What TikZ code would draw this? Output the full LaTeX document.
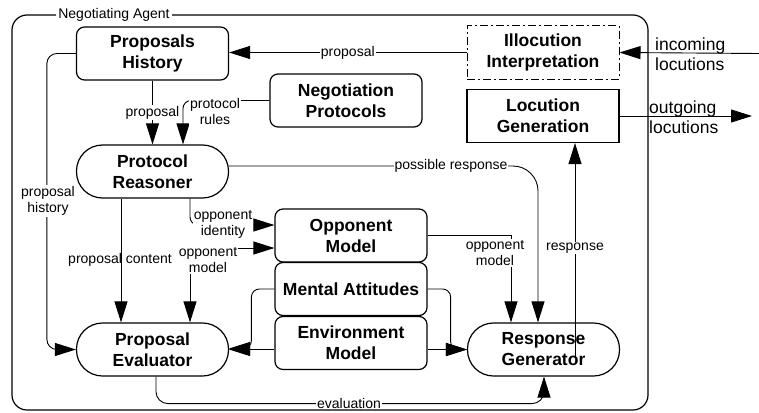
\documentclass[tikz,border=0pt]{standalone}
\usepackage{fontspec}
\setmainfont{Liberation Sans}
\usetikzlibrary{arrows.meta,calc}
\newcommand\nodefnt{\fontsize{17.5}{21}\selectfont\bfseries}
\newcommand\lblfnt{\fontsize{14}{16}\selectfont}
\newcommand\bigfnt{\fontsize{17.5}{20}\selectfont}
\tikzset{
  box/.style={draw, line width=1.2pt, rounded corners=8pt, minimum width=152pt, minimum height=53pt, align=center, font=\nodefnt, inner sep=0pt},
  stad/.style={box, rounded corners=26pt},
  sharpbox/.style={box, rounded corners=0pt, sharp corners},
  conn/.style={line width=0.9pt},
  arr/.style={-{Triangle[length=21pt 0 0,width=13pt 0 0]}},
  biarr/.style={{Triangle[length=21pt 0 0,width=13pt 0 0]}-{Triangle[length=21pt 0 0,width=13pt 0 0]}},
  lbl/.style={fill=white, font=\lblfnt, inner sep=1pt, align=center},
  nlbl/.style={font=\lblfnt, inner sep=1pt, align=center},
  outlbl/.style={font=\bigfnt, inner sep=0pt, align=left, anchor=west}
}
\begin{document}
\begin{tikzpicture}[x=1pt,y=-1pt]
\useasboundingbox (0,0) rectangle (759,412);
% frame
\draw[line width=1.2pt, rounded corners=15pt] (12,15) rectangle (648,410);
\node[lbl, inner sep=2pt] (agent) at (114,15) {Negotiating Agent};
% nodes
\node[box] (PH) at (152.5,53.5) {Proposals\\History};
\node[box] (NP) at (346,100.5) {Negotiation\\Protocols};
\node[stad] (PR) at (152.5,171.5) {Protocol\\Reasoner};
\node[sharpbox, line width=1pt, dash pattern=on 8pt off 3pt on 2pt off 3pt] (II) at (543,52.5) {Illocution\\Interpretation};
\node[sharpbox] (LG) at (543,116) {Locution\\Generation};
\node[box] (OM) at (351,235.5) {Opponent\\Model};
\node[box] (MA) at (351,289) {Mental Attitudes};
\node[box] (EM) at (351,343) {Environment\\Model};
\node[stad] (PE) at (152.5,349.5) {Proposal\\Evaluator};
\node[stad] (RG) at (543.5,349.5) {Response\\Generator};
% external
\coordinate (inc) at (759,53.5);
\coordinate (outg) at (752,116);
\draw[conn,arr] (inc) -- (II.east);
\node[outlbl] (inclbl) at (655,54) {incoming\\locutions};
\draw[conn,arr] (LG.east) -- (outg);
\node[outlbl] (outlbl) at (649,117) {outgoing\\locutions};
% connectors
\draw[conn,arr] (II.west) -- node[lbl]{proposal} (II.west -| PH.east);
\draw[conn,arr] (PH.south) -- node[lbl]{proposal} (PR.north);
\draw[conn,arr,rounded corners=8pt] (NP.west) -| ($(PR.north)+(30.5,0)$);
\node[lbl] (prl) at (215,111) {protocol\\rules};
\draw[conn,arr,rounded corners=25pt] ($(PR.east)+(0,-5.5)$) -| ($(RG.north)+(-5.5,0)$);
\node[lbl] (psr) at (451,166) {possible response};
\coordinate (rs) at (575,357);
\draw[conn,arr] (rs) -- (rs |- LG.south);
\node[lbl] (rsl) at (575,248) {response};
\draw[conn,arr,rounded corners=10pt] (PH.west) -- ++(-29,0) |- (PE.west);
\node[lbl] (phl) at (48,201) {proposal\\history};
\draw[conn,arr] ($(PR.south)+(-31.5,0)$) -- ($(PE.north)+(-31.5,0)$);
\node[nlbl] (pcl) at (120,260) {proposal content};
\draw[conn,arr,rounded corners=8pt] ($(PR.south)+(37.5,0)$) |- ($(OM.west)+(0,-10.5)$);
\node[lbl] (oil) at (223,224) {opponent\\identity};
\draw[conn,biarr] ($(OM.west)+(0,12.5)$) -| ($(PE.north)+(37.5,0)$);
\node[lbl] (oml) at (208,260) {opponent\\model};
\draw[conn,arr] (OM.east) -| ($(RG.north)+(-32.5,0)$);
\node[lbl] (oml2) at (495,253) {opponent\\model};
\draw[conn,arr,rounded corners=8pt] (MA.west) -- ++(-23,0) |- ($(PE.east)+(0,-1)$);
\draw[conn,arr] (EM.west |- PE.east) -- (PE.east);
\draw[conn,arr,rounded corners=8pt] (MA.east) -- ++(23,0) |- (RG.west);
\draw[conn,arr] (EM.east |- RG.west) -- (RG.west);
\draw[conn,arr,rounded corners=12pt] ($(PE.south)+(3.5,0)$) -- ++(0,27) -| ($(RG.south)+(0.5,0)$);
\node[lbl] (evl) at (349,403) {evaluation};
\end{tikzpicture}
\end{document}
